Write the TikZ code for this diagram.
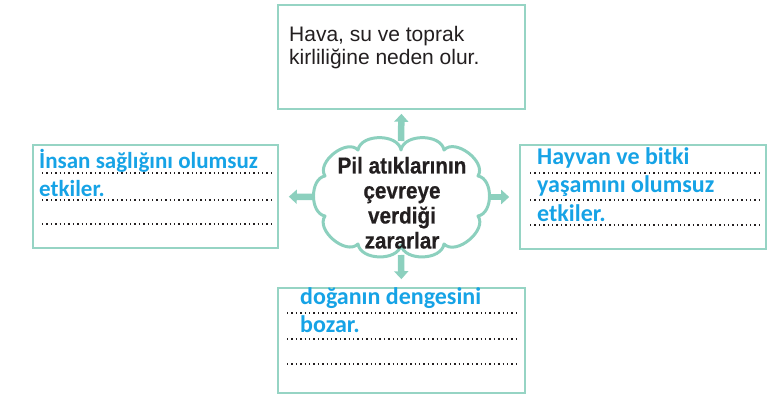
\documentclass[tikz,border=0pt]{standalone}
\usepackage{fontspec}
\setmainfont{Liberation Sans}
\newfontfamily\calibri{Carlito}
\newfontfamily\condsans[FakeStretch=0.9,FakeBold=0.6]{Liberation Sans}
\usetikzlibrary{arrows.meta}
\definecolor{teal1}{RGB}{140,208,190}
\definecolor{boxc}{RGB}{150,212,196}
\definecolor{bluetxt}{RGB}{22,163,230}
\definecolor{darktxt}{RGB}{35,31,32}
\tikzset{
  box/.style={draw=boxc,line width=1.6pt,fill=white,minimum width=#1,inner sep=0pt},
  arr/.style={draw=teal1,line width=6.5pt,-{Triangle[length=8pt,width=14pt]}},
  dotline/.style={line width=1.6pt,dash pattern=on 1.4pt off 3pt,darktxt},
  cloudline/.style={draw=teal1,line width=3pt,fill=white,line join=round},
  puff/.style={bend left=#1},
  bluet/.style={anchor=base west,inner sep=0pt,text=bluetxt,font=\calibri\bfseries\fontsize{24}{28}\selectfont},
  plain/.style={anchor=base west,inner sep=0pt,text=darktxt,font=\fontsize{21}{23}\selectfont},
  ctext/.style={anchor=base,inner sep=0pt,text=darktxt,font=\condsans\bfseries\fontsize{23}{25}\selectfont},
}
\begin{document}
\begin{tikzpicture}[x=1pt,y=-1pt]
\useasboundingbox (0,0) rectangle (777,403);
% boxes
\node[box=247pt,minimum height=104pt] (top) at (401.5,57) {};
\node[box=245pt,minimum height=103pt] (left) at (155.5,196.5) {};
\node[box=246pt,minimum height=104pt] (right) at (643,197) {};
\node[box=247pt,minimum height=105pt] (bottom) at (401.5,340.5) {};
% cloud reference points
\coordinate (cn) at (401,141);
\coordinate (cs) at (401,255);
\coordinate (cw) at (314,197);
\coordinate (ce) at (489,197);
% arrows
\draw[arr,shorten >=4pt] (cn) -- (top.south);
\draw[arr,shorten >=10pt] (cw) -- (left.east);
\draw[arr,shorten >=10pt] (ce) -- (right.west);
\draw[arr,shorten >=8pt] (cs) -- (bottom.north);
% cloud
\draw[cloudline] (325,216) to[puff=80] (325,176) to[puff=85] (358,150)
  to[puff=80] (401,150) to[puff=80] (444,150) to[puff=85] (478,176)
  to[puff=80] (478,216) to[puff=85] (444,244) to[puff=80] (401,245)
  to[puff=80] (358,244) to[puff=85] (325,216) -- cycle;
\node[ctext] (c1) at (402,173.5) {Pil atıklarının};
\node[ctext] (c2) at (402,198.5) {çevreye};
\node[ctext] (c3) at (402,223.5) {verdiği};
\node[ctext] (c4) at (402,248.5) {zararlar};
% top box text
\node[plain] (t1) at (289,42) {Hava, su ve toprak};
\node[plain] (t2) at (289,65) {kirliliğine neden olur.};
% left box
\draw[dotline] (42,173) -- (271,173);
\draw[dotline] (42,200) -- (271,200);
\draw[dotline] (42,224) -- (271,224);
\node[bluet,font=\calibri\bfseries\fontsize{23}{28}\selectfont] (l1) at (39,169) {İnsan sağlığını olumsuz};
\node[bluet,font=\calibri\bfseries\fontsize{23}{28}\selectfont] (l2) at (39,197) {etkiler.};
% right box
\draw[dotline] (530,173) -- (759,173);
\draw[dotline] (530,200) -- (759,200);
\draw[dotline] (530,225) -- (759,225);
\node[bluet] (r1) at (537,165) {Hayvan ve bitki};
\node[bluet] (r2) at (537,193) {yaşamını olumsuz};
\node[bluet] (r3) at (537,222) {etkiler.};
% bottom box
\draw[dotline] (287,313) -- (516,313);
\draw[dotline] (287,339) -- (516,339);
\draw[dotline] (287,364) -- (516,364);
\node[bluet] (b1) at (300,305) {doğanın dengesini};
\node[bluet] (b2) at (300,333) {bozar.};
\end{tikzpicture}
\end{document}
